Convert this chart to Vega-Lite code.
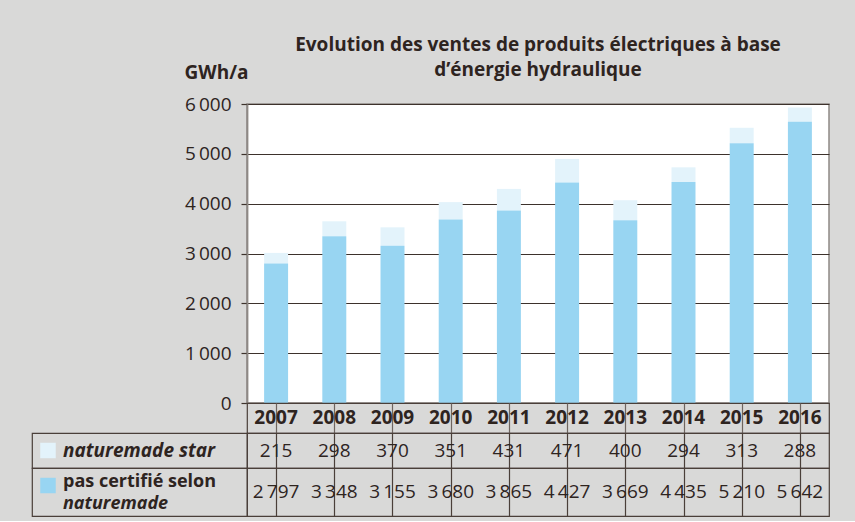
{
  "$schema": "https://vega.github.io/schema/vega-lite/v6.json",
  "background": "#d9d9d8",
  "padding": {"left": 31, "top": 34, "right": 27, "bottom": 4},
  "datasets": {
    "sales": [
      {"year": "2007", "series": "naturemade star", "value": 215},
      {"year": "2008", "series": "naturemade star", "value": 298},
      {"year": "2009", "series": "naturemade star", "value": 370},
      {"year": "2010", "series": "naturemade star", "value": 351},
      {"year": "2011", "series": "naturemade star", "value": 431},
      {"year": "2012", "series": "naturemade star", "value": 471},
      {"year": "2013", "series": "naturemade star", "value": 400},
      {"year": "2014", "series": "naturemade star", "value": 294},
      {"year": "2015", "series": "naturemade star", "value": 313},
      {"year": "2016", "series": "naturemade star", "value": 288},
      {"year": "2007", "series": "pas certifié selon naturemade", "value": 2797},
      {"year": "2008", "series": "pas certifié selon naturemade", "value": 3348},
      {"year": "2009", "series": "pas certifié selon naturemade", "value": 3155},
      {"year": "2010", "series": "pas certifié selon naturemade", "value": 3680},
      {"year": "2011", "series": "pas certifié selon naturemade", "value": 3865},
      {"year": "2012", "series": "pas certifié selon naturemade", "value": 4427},
      {"year": "2013", "series": "pas certifié selon naturemade", "value": 3669},
      {"year": "2014", "series": "pas certifié selon naturemade", "value": 4435},
      {"year": "2015", "series": "pas certifié selon naturemade", "value": 5210},
      {"year": "2016", "series": "pas certifié selon naturemade", "value": 5642}
    ],
    "rows": [
      {"series": "naturemade star", "line1": "naturemade star", "line2": ""},
      {"series": "pas certifié selon naturemade", "line1": "pas certifié selon", "line2": "naturemade"}
    ]
  },
  "columns": 2,
  "spacing": 0,
  "bounds": "flush",
  "align": "each",
  "resolve": {"scale": {"x": "independent", "y": "independent"}},
  "concat": [
    {
      "width": 215, "height": 299,
      "data": {"values": [{}]},
      "view": {"stroke": null, "fill": null},
      "mark": {"type": "text"},
      "encoding": {"text": {"value": ""}}
    },
    {
      "width": 582, "height": 299,
      "data": {"name": "sales"},
      "title": {
        "text": ["Evolution des ventes de produits électriques à base", "d’énergie hydraulique"],
        "fontSize": 19, "fontWeight": "bold", "color": "#2e241f", "anchor": "middle", "frame": "group",
        "offset": -17, "lineHeight": 25.5, "font": "Open Sans"
      },
      "view": {"fill": "white", "stroke": "#8e8985", "strokeWidth": 1.5},
      "mark": {"type": "bar"},
      "encoding": {
        "x": {"field": "year", "type": "nominal", "scale": {"paddingInner": 0.588, "paddingOuter": 0.294}, "axis": null},
        "y": {
          "field": "value", "type": "quantitative", "stack": "zero",
          "scale": {"domain": [0, 6000], "nice": false},
          "axis": {
            "values": [0, 1000, 2000, 3000, 4000, 5000, 6000], "format": ",d",
            "title": "GWh/a", "titleAngle": 0, "titleAlign": "right", "titleBaseline": "alphabetic",
            "titleX": 1, "titleY": -26, "titleFontSize": 19, "titleFontWeight": "bold", "titleColor": "#2e241f", "titleFont": "Open Sans",
            "labelFontSize": 19, "labelColor": "#2e241f", "labelFont": "Open Sans", "labelPadding": 10,
            "tickSize": 6, "tickColor": "#3d322c", "tickWidth": 1.2,
            "grid": true, "gridColor": "#3d322c", "gridWidth": 1.2, "gridOpacity": 1,
            "domainColor": "#8e8985", "domainWidth": 1.8
          }
        },
        "color": {
          "field": "series", "type": "nominal",
          "scale": {"domain": ["naturemade star", "pas certifié selon naturemade"], "range": ["#e3f3fb", "#98d5f2"]},
          "legend": null
        },
        "order": {"field": "series", "sort": "descending"}
      }
    },
    {
      "width": 215, "height": 30,
      "data": {"values": [{}]},
      "view": {"stroke": null, "fill": null},
      "mark": {"type": "text"},
      "encoding": {"text": {"value": ""}}
    },
    {
      "width": 582, "height": 30,
      "data": {"name": "sales"},
      "transform": [{"filter": "datum.series == 'naturemade star'"}],
      "view": {"stroke": "#4a3f39", "strokeWidth": 1.2, "fill": null},
      "mark": {"type": "text", "fontSize": 19, "fontWeight": "bold", "baseline": "middle", "color": "#2e241f"},
      "encoding": {
        "x": {"field": "year", "type": "nominal", "scale": {"paddingInner": 0, "paddingOuter": 0},
              "axis": {"grid": true, "bandPosition": 0, "labels": false, "ticks": false, "domain": false, "title": null, "gridColor": "#6e6560", "gridWidth": 1.2, "gridOpacity": 1}},
        "text": {"field": "year"}
      }
    },
    {
      "width": 215, "height": 35,
      "data": {"name": "rows"},
      "transform": [{"filter": "datum.series == 'naturemade star'"}],
      "view": {"stroke": "#4a3f39", "strokeWidth": 1.2, "fill": null},
      "encoding": {
        "x": {"field": "series", "type": "nominal", "scale": {"type": "point", "align": 0.0744}, "axis": null}
      },
      "layer": [
        {
          "mark": {"type": "square", "size": 240, "filled": true, "opacity": 1},
          "encoding": {
            "color": {
              "field": "series", "type": "nominal",
              "scale": {"domain": ["naturemade star", "pas certifié selon naturemade"], "range": ["#e3f3fb", "#98d5f2"]},
              "legend": null
            }
          }
        },
        {
          "mark": {"type": "text", "align": "left", "baseline": "middle", "dx": 15, "fontSize": 19, "fontWeight": "bold", "fontStyle": "italic", "color": "#2e241f"},
          "encoding": {"text": {"field": "line1"}}
        }
      ]
    },
    {
      "width": 582, "height": 35,
      "data": {"name": "sales"},
      "transform": [{"filter": "datum.series == 'naturemade star'"}],
      "view": {"stroke": "#4a3f39", "strokeWidth": 1.2, "fill": null},
      "mark": {"type": "text", "fontSize": 19, "baseline": "middle", "color": "#2e241f"},
      "encoding": {
        "x": {"field": "year", "type": "nominal", "scale": {"paddingInner": 0, "paddingOuter": 0},
              "axis": {"grid": true, "bandPosition": 0, "labels": false, "ticks": false, "domain": false, "title": null, "gridColor": "#4a3f39", "gridWidth": 1.2, "gridOpacity": 1}},
        "text": {"field": "value", "type": "quantitative", "format": ",d"}
      }
    },
    {
      "width": 215, "height": 48,
      "data": {"name": "rows"},
      "transform": [{"filter": "datum.series == 'pas certifié selon naturemade'"}],
      "view": {"stroke": "#4a3f39", "strokeWidth": 1.2, "fill": null},
      "encoding": {
        "x": {"field": "series", "type": "nominal", "scale": {"type": "point", "align": 0.0744}, "axis": null},
        "y": {"field": "series", "type": "nominal", "scale": {"type": "point", "align": 0.365}, "axis": null}
      },
      "layer": [
        {
          "mark": {"type": "square", "size": 240, "filled": true, "opacity": 1},
          "encoding": {
            "color": {
              "field": "series", "type": "nominal",
              "scale": {"domain": ["naturemade star", "pas certifié selon naturemade"], "range": ["#e3f3fb", "#98d5f2"]},
              "legend": null
            }
          }
        },
        {
          "mark": {"type": "text", "align": "left", "baseline": "middle", "dx": 15, "dy": -4, "fontSize": 18, "fontWeight": "bold", "color": "#2e241f"},
          "encoding": {"text": {"field": "line1"}}
        },
        {
          "mark": {"type": "text", "align": "left", "baseline": "middle", "dx": 15, "dy": 18.5, "fontSize": 18, "fontWeight": "bold", "fontStyle": "italic", "color": "#2e241f"},
          "encoding": {"text": {"field": "line2"}}
        }
      ]
    },
    {
      "width": 582, "height": 48,
      "data": {"name": "sales"},
      "transform": [{"filter": "datum.series == 'pas certifié selon naturemade'"}],
      "view": {"stroke": "#4a3f39", "strokeWidth": 1.2, "fill": null},
      "mark": {"type": "text", "fontSize": 19, "baseline": "middle", "color": "#2e241f"},
      "encoding": {
        "x": {"field": "year", "type": "nominal", "scale": {"paddingInner": 0, "paddingOuter": 0},
              "axis": {"grid": true, "bandPosition": 0, "labels": false, "ticks": false, "domain": false, "title": null, "gridColor": "#4a3f39", "gridWidth": 1.2, "gridOpacity": 1}},
        "text": {"field": "value", "type": "quantitative", "format": ",d"}
      }
    }
  ],
  "config": {
    "font": "Open Sans",
    "locale": {"number": {"decimal": ",", "thousands": "\u2009", "grouping": [3], "currency": ["", ""]}},
    "axis": {"labelFont": "Open Sans", "titleFont": "Open Sans"}
  }
}
